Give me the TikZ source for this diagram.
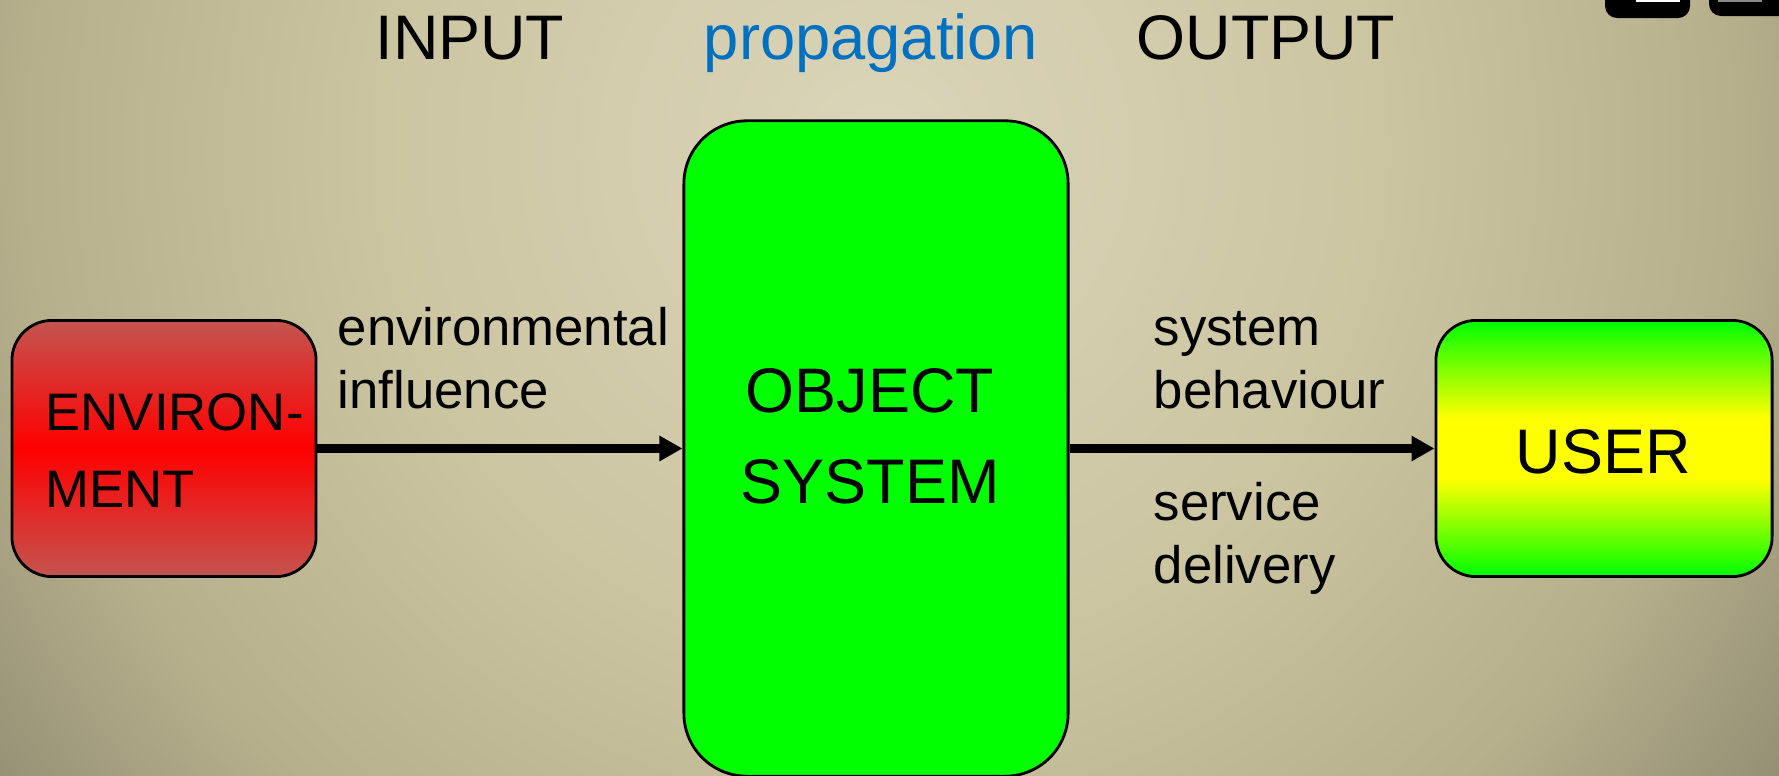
\documentclass[tikz,border=0pt]{standalone}
\usepackage{fontspec}
\setmainfont{Liberation Sans}
\usetikzlibrary{arrows.meta}

\definecolor{bgtop}{HTML}{DBD5BA}
\definecolor{bgmid}{HTML}{CCC5A2}
\definecolor{bglow}{HTML}{B6AF8C}
\definecolor{bgedge}{HTML}{948E74}
\definecolor{envedge}{HTML}{C4544F}
\definecolor{envcore}{HTML}{FF0000}
\definecolor{objgreen}{HTML}{00FF00}
\definecolor{useryellow}{HTML}{FFFF00}
\definecolor{propblue}{HTML}{0070C0}
\definecolor{btngray}{HTML}{888888}

\pgfdeclareradialshading{bgglow}{\pgfpoint{0bp}{0bp}}{color(0bp)=(bgtop); color(5.7bp)=(bgmid); color(9.8bp)=(bglow); color(12.5bp)=(bgedge); color(50bp)=(bgedge)}
\pgfdeclareverticalshading{userglow}{100bp}{color(0bp)=(objgreen); color(25bp)=(objgreen); color(44bp)=(useryellow); color(56bp)=(useryellow); color(75bp)=(objgreen); color(100bp)=(objgreen)}

\tikzset{
  box/.style={draw=black, line width=0.8pt, rounded corners=0.4cm, inner sep=0pt},
  bigtext/.style={font=\fontsize{17.9}{21}\selectfont, inner sep=0pt, anchor=base},
  smalltext/.style={font=\fontsize{15}{18}\selectfont, inner sep=0pt, anchor=base west},
  flow/.style={line width=2.4pt, -{Triangle[length=2.3mm, width=2.4mm]}}
}

\begin{document}
\begin{tikzpicture}[x=0.01cm, y=-0.01cm]
\useasboundingbox (0,0) rectangle (1779,775);
\clip (0,0) rectangle (1779,775);
\shade[shading=bgglow] (880,150) circle (22cm);

\fill[black, rounded corners=1.2mm] (1605,-20) rectangle (1690,18);
\fill[white] (1636,-5) rectangle (1680,2);
\fill[black, rounded corners=1.2mm] (1709,-20) rectangle (1800,16);
\fill[btngray] (1718,-5) rectangle (1762,2);

\node[box, top color=envedge, bottom color=envedge, middle color=envcore,
      minimum width=3.04cm, minimum height=2.56cm] (env) at (164,448.5) {};
\node[box, fill=objgreen, rounded corners=0.63cm,
      minimum width=3.84cm, minimum height=6.55cm] (obj) at (876,448.5) {};
\node[box, shading=userglow,
      minimum width=3.36cm, minimum height=2.56cm] (user) at (1604,448.5) {};

\draw[flow] (env.east) -- (obj.west);
\draw[flow] (obj.east) -- (user.west);

\node[bigtext] (input) at (470,59) {INPUT};
\node[bigtext, font=\fontsize{18}{21}\selectfont, text=propblue] (prop) at (871,59) {propagation};
\node[bigtext] (output) at (1266,59) {OUTPUT};

\node[smalltext] (envA) at (45,430) {ENVIRON-};
\node[smalltext] (envB) at (45,507) {MENT};
\node[bigtext] (objA) at (870,412) {OBJECT};
\node[bigtext] (objB) at (870,503) {SYSTEM};
\node[bigtext] (usertext) at (1603,473) {USER};

\node[smalltext] (inA) at (337,345) {environmental};
\node[smalltext] (inB) at (337,408) {influence};
\node[smalltext] (outA) at (1153,345) {system};
\node[smalltext] (outB) at (1153,408) {behaviour};
\node[smalltext] (outC) at (1153,520) {service};
\node[smalltext] (outD) at (1153,583) {delivery};
\end{tikzpicture}
\end{document}
